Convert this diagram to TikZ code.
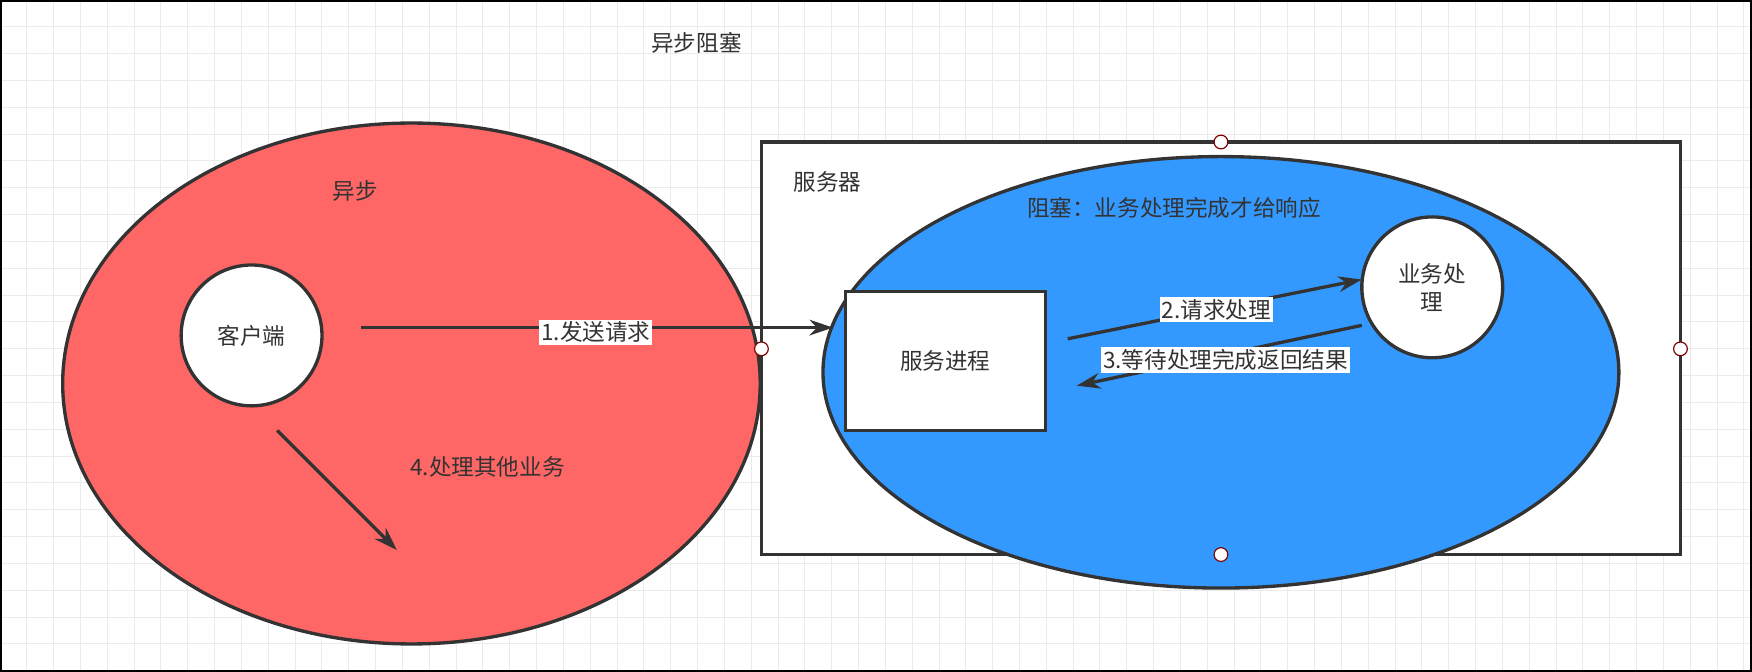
\documentclass[tikz,border=0pt]{standalone}
\usepackage{fontspec}
\setmainfont{Noto Sans CJK SC}
\usetikzlibrary{arrows.meta,shapes.geometric}
\definecolor{redf}{HTML}{FF6666}
\definecolor{bluef}{HTML}{3399FF}
\definecolor{edge}{HTML}{333333}
\begin{document}
\begin{tikzpicture}[x=0.02cm,y=-0.02cm,
  txt/.style={font=\fontsize{11.5}{14}\selectfont,text=edge,inner sep=1pt},
  shp/.style={draw=edge,line width=1.7pt},
  arr/.style={draw=edge,line width=1.7pt,-{Stealth[length=12pt,width=8pt]}},
  lab/.style={txt,fill=white},
  handle/.style={circle,draw=red!50!black,fill=white,minimum size=7pt,inner sep=0pt,line width=0.6pt}]
\useasboundingbox (0,0) rectangle (1567,601);
\draw[step=0.48cm,black!8,line width=0.5pt] (0,0) grid (1567,601);
\draw[black,line width=1pt] (0.5,0.5) rectangle (1566.5,600.5);
\node[txt] (title) at (623,38) {异步阻塞};
\node[shp,ellipse,fill=redf,minimum width=624\pgflinewidth,inner sep=0pt,minimum width=12.48cm,minimum height=9.32cm] (red) at (368,343) {};
\node[txt] (async) at (318,171) {异步};
\node[shp,circle,fill=white,minimum size=2.52cm,inner sep=0pt,txt] (client) at (225,300) {客户端};
\node[shp,rectangle,fill=white,minimum width=16.44cm,minimum height=7.38cm,inner sep=0pt] (server) at (1092,311.5) {};
\node[txt] (srvl) at (740,163) {服务器};
\node[shp,ellipse,fill=bluef,minimum width=14.24cm,minimum height=7.72cm,inner sep=0pt] (blue) at (1092,333) {};
\node[txt] (block) at (1050,186) {阻塞：业务处理完成才给响应};
\node[shp,rectangle,fill=white,minimum width=3.58cm,minimum height=2.48cm,inner sep=0pt,txt] (proc) at (845.5,323) {服务进程};
\node[shp,circle,fill=white,minimum size=2.52cm,inner sep=0pt,txt,align=center] (biz) at (1281,257) {业务处\\理};
\foreach \p/\n in {{(1092,127)}/h1,{(681,312)}/h2,{(1503,312)}/h3,{(1092,496)}/h4}
  \node[handle] (\n) at \p {};
\coordinate (a1s) at (323,293); \coordinate (a1e) at (745,293);
\coordinate (a2s) at (955,303); \coordinate (a2e) at (1218,250);
\coordinate (a3s) at (1218,291); \coordinate (a3e) at (963,345);
\coordinate (a4s) at (248,385); \coordinate (a4e) at (355,492);
\draw[arr] (a1s) -- (a1e);
\draw[arr] (a2s) -- (a2e);
\draw[arr] (a3s) -- (a3e);
\draw[arr] (a4s) -- (a4e);
\node[lab] (l1) at (533,297) {1.发送请求};
\node[lab] (l2) at (1088,277) {2.请求处理};
\node[lab] (l3) at (1096,322) {3.等待处理完成返回结果};
\node[txt] (l4) at (436,418) {4.处理其他业务};
\end{tikzpicture}
\end{document}
